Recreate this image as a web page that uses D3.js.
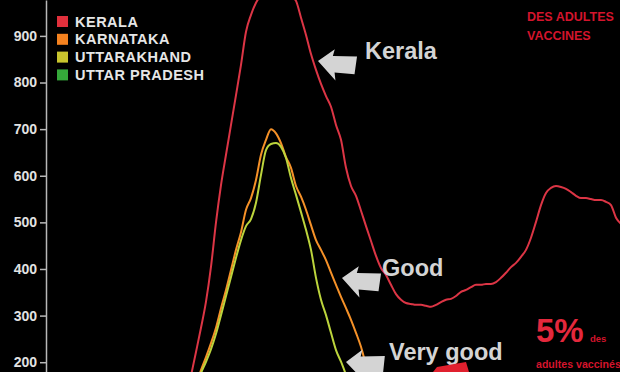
<!DOCTYPE html>
<html>
<head>
<meta charset="utf-8">
<script src="https://cdn.jsdelivr.net/npm/d3@7"></script>
<style>
  html, body { margin: 0; padding: 0; background: #000; }
  svg { display: block; }
</style>
</head>
<body>
<div id="chart"></div>
<script>
// data (day index, daily cases)
var keralaStart = 28;
var keralaValues = [120, 171, 222, 274, 330, 405, 500, 580, 645, 709, 773, 838, 909, 945, 971, 988,
  1003, 1016, 1020, 1016, 1003, 986, 975, 939, 902, 861, 827, 797, 771, 748, 709, 677, 617, 578,
  557, 525, 492, 460, 428, 402, 387, 366, 346, 334, 327, 325, 323, 323, 321, 319, 323, 329, 334,
  336, 342, 351, 355, 361, 366, 366, 368, 368, 372, 381, 392, 404, 413, 426, 441, 467, 501, 537,
  563, 574, 578, 576, 572, 565, 557, 552, 552, 550, 548, 548, 544, 537, 510, 497];

var karnatakaStart = 30;
var karnatakaValues = [150, 183, 211, 241, 274, 316, 355, 398, 441, 479, 527, 552, 591, 645, 677,
  700, 691, 670, 640, 617, 578, 555, 527, 494, 462, 441, 419, 392, 366, 340, 316, 291, 263, 233,
  194, 162];

var uttarakhandStart = 30;
var uttarakhandValues = [150, 177, 201, 228, 261, 301, 342, 383, 424, 462, 492, 507, 542, 602, 655,
  668, 670, 662, 638, 595, 559, 522, 484, 441, 381, 334, 301, 263, 226, 201, 173];

var uttarPradeshStart = 32;
var uttarPradeshValues = [60, 80, 100, 120, 138, 150, 160, 166, 170, 168, 160, 148, 132, 112, 95, 80];

var yTicks = [200, 300, 400, 500, 600, 700, 800, 900];

var legendNames = ["KERALA", "KARNATAKA", "UTTARAKHAND", "UTTAR PRADESH"];
var legendColors = ["#e0303c", "#f5821f", "#c9c52e", "#35a83a"];
var lineColors = ["#dc3545", "#f59128", "#bcd43c", "#35a83a"];

function toPoints(start, vals) {
  return vals.map(function(v, i) { return {x: start + i, y: v}; });
}
var series = [
  toPoints(uttarPradeshStart, uttarPradeshValues),
  toPoints(keralaStart, keralaValues),
  toPoints(karnatakaStart, karnatakaValues),
  toPoints(uttarakhandStart, uttarakhandValues)
];
var seriesColor = [lineColors[3], lineColors[0], lineColors[1], lineColors[2]];

var margin = {top: 0, right: 0, bottom: 0, left: 46},
    width = 620 - margin.left - margin.right,
    height = 372 - margin.top - margin.bottom;

var x = d3.scaleLinear().domain([0, 115]).range([0, 575]);
var y = d3.scaleLinear().domain([179, 977]).range([height, 0]);

var line = d3.line()
    .x(function(d) { return x(d.x); })
    .y(function(d) { return y(d.y); })
    .curve(d3.curveMonotoneX);

var svg = d3.select("#chart").append("svg")
    .attr("width", 620).attr("height", 372)
    .style("background", "#000");

svg.append("defs").append("clipPath").attr("id", "plot")
  .append("rect").attr("width", width).attr("height", height);

var g = svg.append("g")
    .attr("transform", "translate(" + margin.left + "," + margin.top + ")");

// lines
g.append("g").attr("clip-path", "url(#plot)")
  .selectAll("path").data(series).enter().append("path")
    .attr("d", line)
    .style("fill", "none")
    .style("stroke", function(d, i) { return seriesColor[i]; })
    .style("stroke-width", "2px")
    .style("stroke-linejoin", "round");

// y axis
var yAxis = g.append("g")
    .call(d3.axisLeft(y).tickValues(yTicks).tickSize(6).tickSizeOuter(0).tickPadding(3));
yAxis.select(".domain").style("stroke", "#b8b8b8").style("stroke-width", "1.5px");
yAxis.selectAll(".tick line").style("stroke", "#b8b8b8").style("stroke-width", "1.5px");
yAxis.selectAll(".tick text")
    .style("fill", "#e2e2e2")
    .style("font-family", "'Liberation Sans', Arial, sans-serif")
    .style("font-weight", "bold")
    .style("font-size", "14px");

// legend
var legend = svg.append("g").attr("transform", "translate(57,16)");
var rows = legend.selectAll("g").data(legendNames).enter().append("g")
    .attr("transform", function(d, i) { return "translate(0," + (i * 17.8) + ")"; });
rows.append("rect").attr("width", 11).attr("height", 11)
    .style("fill", function(d, i) { return legendColors[i]; });
rows.append("text").attr("x", 18).attr("y", 10.5)
    .text(function(d) { return d; })
    .style("fill", "#e6e6e6")
    .style("font-family", "'Liberation Sans', Arial, sans-serif")
    .style("font-weight", "bold")
    .style("font-size", "14.5px")
    .style("letter-spacing", "0.5px");

// annotation arrows (block arrows pointing left)
var arrowShape = "M0,0 L15,-14 L14,-7 L38,-10 L38,8 L18,9 L20,17 Z";
var notes = [
  {text: "Kerala", ax: 318, ay: 61, rot: 8, tx: 365, ty: 59},
  {text: "Good", ax: 342, ay: 278, rot: 8, tx: 382, ty: 276},
  {text: "Very good", ax: 346, ay: 362, rot: 6, tx: 389, ty: 360}
];
var ann = svg.append("g");
ann.selectAll("path").data(notes).enter().append("path")
    .attr("d", arrowShape)
    .attr("transform", function(d) { return "translate(" + d.ax + "," + d.ay + ") rotate(" + d.rot + ")"; })
    .style("fill", "#d4d4d4");
ann.selectAll("text").data(notes).enter().append("text")
    .attr("x", function(d) { return d.tx; })
    .attr("y", function(d) { return d.ty; })
    .text(function(d) { return d.text; })
    .style("fill", "#d4d4d4")
    .style("font-family", "'Liberation Sans', Arial, sans-serif")
    .style("font-weight", "bold")
    .style("font-size", "23.5px");

// red stroke under "Very good"
svg.append("path")
    .attr("d", "M433,372 L437,367 L466,362 L469,372 Z")
    .style("fill", "#e0202e");

// red side notes
var red = svg.append("g")
    .style("fill", "#d4142c")
    .style("font-family", "'Liberation Sans', Arial, sans-serif")
    .style("font-weight", "bold");
red.append("text").attr("x", 527).attr("y", 21).text("DES ADULTES").style("font-size", "12.5px");
red.append("text").attr("x", 527).attr("y", 40).text("VACCINES").style("font-size", "12.5px");
red.append("text").attr("x", 536).attr("y", 342).text("5%")
    .style("font-size", "33px").style("fill", "#e4283c");
red.append("text").attr("x", 590).attr("y", 342).text("des")
    .style("font-size", "9.5px");
red.append("text").attr("x", 536).attr("y", 368).text("adultes vaccinés")
    .style("font-size", "10.6px");
</script>
</body>
</html>
